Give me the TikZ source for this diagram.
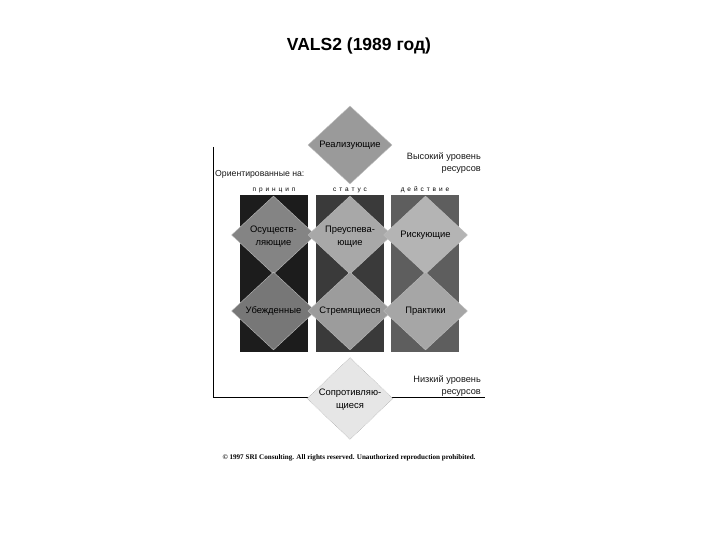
\documentclass[tikz,border=0pt]{standalone}
\usepackage{fontspec}
\usepackage{graphicx}
\setmainfont{Liberation Sans}
\newfontfamily\serifcopy{Liberation Serif}
\newfontfamily\spacedfont[LetterSpace=45]{Liberation Sans}
\usetikzlibrary{shapes.geometric}
\definecolor{colA}{HTML}{1C1C1C}
\definecolor{colB}{HTML}{3A3A3A}
\definecolor{colC}{HTML}{5E5E5E}
\definecolor{dReal}{HTML}{9A9A9A}
\definecolor{dOsu}{HTML}{848484}
\definecolor{dUbe}{HTML}{777777}
\definecolor{dPre}{HTML}{A8A8A8}
\definecolor{dStr}{HTML}{9C9C9C}
\definecolor{dRis}{HTML}{B4B4B4}
\definecolor{dPra}{HTML}{A6A6A6}
\definecolor{dSop}{HTML}{E6E6E6}
\definecolor{edgeg}{HTML}{BBBBBB}
\tikzset{
  colbox/.style={fill=#1, draw=none},
  gem/.style={diamond, aspect=1.077, minimum width=84pt, minimum height=78pt, inner sep=0pt, fill=#1, draw=edgeg, line width=0.4pt},
  gemtext/.style={font=\fontsize{9.4}{13}\selectfont, align=center, inner sep=0pt, text=black},
  sidetext/.style={font=\fontsize{9.2}{12}\selectfont, inner sep=0pt, text=black!90},
  collabel/.style={font=\spacedfont\fontsize{6.5}{8}\selectfont, inner sep=0pt, text=black},
  axis/.style={draw=black, line width=0.8pt}
}
\begin{document}
\begin{tikzpicture}[x=1pt,y=-1pt]
\useasboundingbox (0,0) rectangle (720,540);
\fill[white] (0,0) rectangle (720,540);

% title
\node[font=\bfseries\fontsize{17.5}{20}\selectfont, inner sep=0pt] (title) at (359,46) {VALS2 (1989 год)};

% axes
\coordinate (axtop) at (213,147);
\coordinate (axorig) at (213,397);
\coordinate (axright) at (485,397);
\draw[axis] (axtop) -- (axorig) -- (axright);

% columns
\node[colbox=colA, minimum width=68pt, minimum height=157pt, inner sep=0pt] (col1) at (274,273.5) {};
\node[colbox=colB, minimum width=68pt, minimum height=157pt, inner sep=0pt] (col2) at (349.5,273.5) {};
\node[colbox=colC, minimum width=68pt, minimum height=157pt, inner sep=0pt] (col3) at (425,273.5) {};

% column labels
\node[collabel] (lab1) at (274,190) {принцип};
\node[collabel] (lab2) at (350,190) {статус};
\node[collabel] (lab3) at (425,190) {действие};

% orientation label
\node[sidetext, anchor=west, font=\fontsize{8.7}{10}\selectfont] (orient) at (215,174) {Ориентированные на:};

% top diamond
\node[gem=dReal] (real) at (350,145) {};
\node[gemtext] (realt) at (real.center) {Реализующие};

% row 1
\node[gem=dOsu] (osu) at (273.5,235) {};
\node[gemtext] (osut) at ([yshift=-1.5pt]osu.center) {Осуществ-\\ляющие};
\node[gem=dPre] (pre) at (350,235) {};
\node[gemtext] (pret) at ([yshift=-1.5pt]pre.center) {Преуспева-\\ющие};
\node[gem=dRis] (ris) at (425.5,235) {};
\node[gemtext] (rist) at (ris.center) {Рискующие};

% row 2
\node[gem=dUbe] (ube) at (273.5,311) {};
\node[gemtext] (ubet) at (ube.center) {Убежденные};
\node[gem=dStr] (str) at (350,311) {};
\node[gemtext] (strt) at (str.center) {Стремящиеся};
\node[gem=dPra] (pra) at (425.5,311) {};
\node[gemtext] (prat) at (pra.center) {Практики};

% bottom diamond
\node[diamond, aspect=1.05, minimum width=86pt, minimum height=82pt, inner sep=0pt, fill=dSop, draw=gray!70, densely dotted, line width=0.5pt] (sop) at (350,398.5) {};
\node[gemtext] (sopt) at ([yshift=-1pt]sop.center) {Сопротивляю-\\щиеся};

% resource labels
\node[sidetext, anchor=north east, align=right] (high) at (481,152) {Высокий уровень\\ресурсов};
\node[sidetext, anchor=north east, align=right] (low) at (481,375) {Низкий уровень\\ресурсов};

% copyright
\node[inner sep=0pt] (copy) at (349,458) {\resizebox{253pt}{!}{\serifcopy\bfseries\fontsize{7}{8}\selectfont © 1997 SRI Consulting. All rights reserved. Unauthorized reproduction prohibited.}};
\end{tikzpicture}
\end{document}
